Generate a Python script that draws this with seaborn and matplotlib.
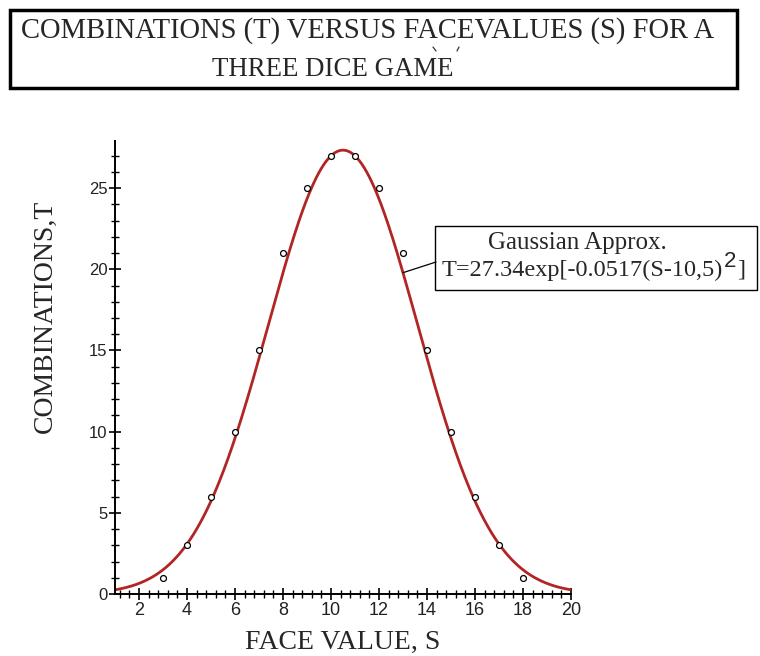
import numpy as np
import pandas as pd
import matplotlib
matplotlib.use('Agg')
import matplotlib.pyplot as plt
from matplotlib.patches import Rectangle
from matplotlib.lines import Line2D
from matplotlib.ticker import MultipleLocator, AutoMinorLocator
import seaborn as sns

# three dice: number of combinations for each face value sum
face_values = [3, 4, 5, 6, 7, 8, 9, 10, 11, 12, 13, 14, 15, 16, 17, 18]
combinations = [1, 3, 6, 10, 15, 21, 25, 27, 27, 25, 21, 15, 10, 6, 3, 1]

# gaussian approximation as printed on the chart
amp = 27.34
coef = 0.0517
center = 10.5
s_min, s_max = 1, 20

sns.set_style('ticks')
plt.rcParams['font.family'] = ['Liberation Serif', 'DejaVu Serif']

W, H = 760, 656
s_fit = np.linspace(s_min, s_max, 400)
fit = pd.DataFrame({'S': s_fit, 'T': amp * np.exp(-coef * (s_fit - center) ** 2)})
pts = pd.DataFrame({'S': face_values, 'T': combinations})

fig = plt.figure(figsize=(7.6, 6.56), dpi=100)
ax = fig.add_axes([0.1513, 0.0945, 0.6, 0.6905])

sns.lineplot(data=fit, x='S', y='T', ax=ax, color='#b22525', linewidth=2)
sns.scatterplot(data=pts, x='S', y='T', ax=ax, marker='o', s=18,
                facecolor='white', edgecolor='black', linewidth=0.9, zorder=5)

ax.set_xlim(s_min, s_max)
ax.set_ylim(0, 27.9)
ax.xaxis.set_major_locator(MultipleLocator(2))
ax.xaxis.set_minor_locator(AutoMinorLocator(5))
ax.yaxis.set_major_locator(MultipleLocator(5))
ax.yaxis.set_minor_locator(AutoMinorLocator(5))
ax.tick_params(which='major', direction='inout', length=9, width=1.2, color='black')
ax.tick_params(which='minor', direction='inout', length=6, width=1.0, color='black')
ax.tick_params(axis='x', labelsize=13, pad=1)
ax.tick_params(axis='y', labelsize=12, pad=1)
for lab in ax.get_xticklabels() + ax.get_yticklabels():
    lab.set_family(['Liberation Sans', 'DejaVu Sans'])
    lab.set_color('#222222')
sns.despine(ax=ax)
for sp in ['left', 'bottom']:
    ax.spines[sp].set_linewidth(1.4)
    ax.spines[sp].set_color('black')

ax.set_xlabel('FACE VALUE, S', fontsize=20, labelpad=8)
ax.set_ylabel('COMBINATIONS,T', fontsize=20)
ax.yaxis.label.set_va('center')
ax.yaxis.set_label_coords(-0.153, 0.614)

# title in a framed box
fig.patches.append(Rectangle((10 / W, 1 - 88 / H), 727 / W, 78 / H, transform=fig.transFigure,
                             fill=False, edgecolor='black', linewidth=2.5))
fig.text(368 / W, 1 - 31 / H, 'COMBINATIONS (T) VERSUS FACEVALUES (S) FOR A',
         ha='center', va='center', fontsize=20.6)
fig.text(333 / W, 1 - 70 / H, 'THREE DICE GAME', ha='center', va='center', fontsize=19.4)
# two stray accent strokes above the second title line
for (xa, ya), (xb, yb) in [((433, 47), (436, 51)), ((457, 51), (459, 47))]:
    fig.add_artist(Line2D([xa / W, xb / W], [1 - ya / H, 1 - yb / H], transform=fig.transFigure,
                          color='#333333', linewidth=0.9))

# annotation box for the fit
fig.patches.append(Rectangle((435 / W, 1 - 290 / H), 322 / W, 64 / H, transform=fig.transFigure,
                             fill=False, edgecolor='black', linewidth=1.0))
fig.text(577 / W, 1 - 243 / H, 'Gaussian Approx.', ha='center', va='center', fontsize=18)

fs = 17.5
y_f = 1 - 270 / H
t1 = fig.text(442 / W, y_f, 'T=27.34exp[-0.0517(S-10,5)', ha='left', va='center', fontsize=fs)
rend = fig.canvas.get_renderer()
x1 = t1.get_window_extent(rend).x1
t2 = fig.text(x1 / W + 0.001, y_f + 9 / H, '2', ha='left', va='center', fontsize=16,
              family=['Liberation Sans', 'DejaVu Sans'])
x2 = t2.get_window_extent(rend).x1
fig.text(x2 / W + 0.001, y_f, ']', ha='left', va='center', fontsize=fs)

s_ann = 13.0
ax.annotate('', xy=(s_ann, amp * np.exp(-coef * (s_ann - center) ** 2)),
            xytext=(436 / W, 1 - 262 / H), textcoords='figure fraction',
            arrowprops=dict(arrowstyle='-', color='black', lw=0.9, shrinkA=0, shrinkB=0))

fig.savefig('out.png', dpi=100)
